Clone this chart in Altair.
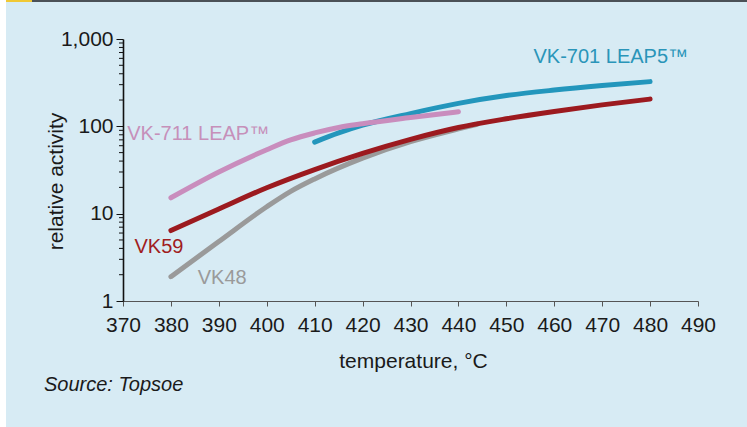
import altair as alt
import pandas as pd

# ---- data ----
t_vk48 = [380, 390, 400, 405, 410, 420, 430, 440, 444]
v_vk48 = [1.9, 4.8, 12.0, 18.0, 25.0, 43.2, 66.8, 93.5, 106]

t_vk59 = [380, 390, 400, 410, 420, 430, 440, 450, 460, 470, 480]
v_vk59 = [6.4, 11.3, 19.8, 32, 49, 71, 97, 122, 148, 176, 205]

t_vk711 = [380, 390, 400, 405, 410, 415, 420, 430, 440]
v_vk711 = [15.2, 30, 54, 70, 84, 97, 107, 126, 147]

t_vk701 = [410, 415, 420, 430, 440, 450, 460, 470, 480]
v_vk701 = [66, 84, 103, 140, 183, 225, 260, 293, 325]

label_text = ["VK-701 LEAP5™", "VK-711 LEAP™", "VK59", "VK48"]
label_t = [471.8, 385.7, 377.5, 390.7]
label_v = [627, 82, 4.15, 1.83]
label_color = ["#2a95b9", "#c690ba", "#a01c21", "#9a9a9a"]

x_ticks = list(range(370, 491, 10))
y_ticks = [1, 10, 100, 1000]
y_minor = [m * d for d in (1, 10, 100) for m in range(2, 10)]

BG = "#d7ebf4"
FONT = "Liberation Sans"

xs = alt.Scale(type="linear", domain=[370, 490], nice=False, zero=False)
ys = alt.Scale(type="log", domain=[1, 1000], nice=False)

xax = alt.Axis(values=x_ticks, grid=False, tickSize=5, labelFontSize=21, labelFont=FONT,
               labelColor="#1a1a1a", labelPadding=8, labelFlush=False,
               domainColor="#555555", tickColor="#555555", domainWidth=1.2,
               title="temperature, °C", titleFont=FONT, titleFontSize=21,
               titleFontWeight="normal", titleColor="#1a1a1a",
               titleX=290, titleY=66, titleAlign="center", titleBaseline="alphabetic")
yax = alt.Axis(values=y_ticks, format=",", grid=False, tickSize=7, labelFontSize=21,
               labelFont=FONT, labelColor="#1a1a1a", labelPadding=3,
               domainColor="#111111", tickColor="#111111", domainWidth=1.6,
               title="relative activity", titleFont=FONT, titleFontSize=21,
               titleFontWeight="normal", titleColor="#1a1a1a", titleAngle=-90,
               titleX=-61, titleY=142, titleAlign="center", titleBaseline="alphabetic")


def line(ts, vs, color):
    df = pd.DataFrame({"t": ts, "v": vs})
    return alt.Chart(df).mark_line(color=color, strokeWidth=5, strokeCap="round",
                                   strokeJoin="round", interpolate="monotone").encode(
        x=alt.X("t:Q", scale=xs, axis=xax),
        y=alt.Y("v:Q", scale=ys, axis=yax),
    )


one = pd.DataFrame({"a": [0]})
white_strip = alt.Chart(one).mark_rect(color="white").encode(
    x=alt.value(-123), x2=alt.value(-117), y=alt.value(-39), y2=alt.value(388))
bar_yellow = alt.Chart(one).mark_rect(color="#f0c834").encode(
    x=alt.value(-117), x2=alt.value(-91), y=alt.value(-39), y2=alt.value(-37))
bar_gray = alt.Chart(one).mark_rect(color="#4b5157").encode(
    x=alt.value(-91), x2=alt.value(624), y=alt.value(-39), y2=alt.value(-37))

minor = alt.Chart(pd.DataFrame({"v": y_minor})).mark_rule(color="#111111", strokeWidth=1).encode(
    y=alt.Y("v:Q", scale=ys, axis=yax), x=alt.value(-4), x2=alt.value(0))

labels_df = pd.DataFrame({"t": label_t, "v": label_v, "txt": label_text, "c": label_color})
labels = alt.Chart(labels_df).mark_text(font=FONT, fontSize=20,
                                        align="center", baseline="middle").encode(
    x=alt.X("t:Q", scale=xs, axis=xax),
    y=alt.Y("v:Q", scale=ys, axis=yax),
    text="txt:N",
    color=alt.Color("c:N", scale=None),
)

source = alt.Chart(one).mark_text(text="Source: Topsoe", font=FONT, fontSize=20,
                                  fontStyle="italic", align="left", baseline="alphabetic",
                                  color="#1a1a1a").encode(
    x=alt.value(-79), y=alt.value(352))

chart = alt.layer(
    white_strip, bar_yellow, bar_gray, minor,
    line(t_vk48, v_vk48, "#9a9a9a"),
    line(t_vk59, v_vk59, "#9c1a1f"),
    line(t_vk701, v_vk701, "#2396bc"),
    line(t_vk711, v_vk711, "#c98dbd"),
    labels, source,
).properties(
    width=575, height=262,
    background=BG,
    padding={"left": 123, "top": 39, "right": 49, "bottom": 126},
    autosize=alt.AutoSizeParams(type="none"),
).configure_view(stroke="transparent")

chart.save("out.html", embed_options={"renderer": "svg", "actions": False})
